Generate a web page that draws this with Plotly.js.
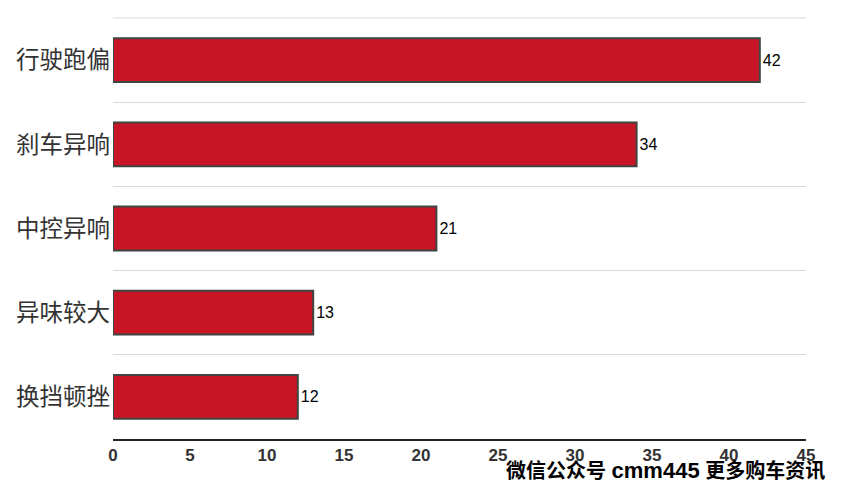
<!DOCTYPE html>
<html>
<head>
<meta charset="utf-8">
<script src="https://cdn.plot.ly/plotly-3.0.1.min.js"></script>
<style>html,body{margin:0;padding:0;background:#fff;}#chart{width:847px;height:485px;}</style>
</head>
<body>
<div id="chart"></div>
<script>
const categories = ["行驶跑偏", "刹车异响", "中控异响", "异味较大", "换挡顿挫"];
const values = [42, 34, 21, 13, 12];
const xTicks = [0, 5, 10, 15, 20, 25, 30, 35, 40, 45];
const watermarkA = "微信公众号 ";
const watermarkB = "cmm445";
const watermarkC = " 更多购车资讯";

const trace = {
  type: "bar",
  orientation: "h",
  y: categories,
  x: values,
  text: values.map(String),
  textposition: "outside",
  cliponaxis: false,
  textfont: {family: "Arial, Liberation Sans, sans-serif", size: 16, color: "#000"},
  marker: {color: "#c81526", line: {color: "#3f4540", width: 2}},
  width: 0.52,
  hoverinfo: "none"
};

const layout = {
  width: 847, height: 485,
  margin: {l: 113, r: 41, t: 18, b: 46},
  paper_bgcolor: "#fff", plot_bgcolor: "#fff",
  showlegend: false,
  xaxis: {
    range: [0, 45], tickvals: xTicks, ticktext: xTicks.map(String),
    showgrid: false, zeroline: false,
    showline: true, linecolor: "#222", linewidth: 2,
    ticks: "", tickfont: {family: "Arial, Liberation Sans, sans-serif", size: 17, color: "#333", weight: "bold"},
    fixedrange: true
  },
  yaxis: {
    type: "category", autorange: "reversed",
    tickson: "boundaries", showgrid: true, gridcolor: "#d9d9d9", gridwidth: 1,
    zeroline: false, showline: false, ticks: "",
    tickfont: {family: "Noto Sans CJK SC, sans-serif", size: 23.5, color: "#333"},
    ticklabelstandoff: 2,
    fixedrange: true
  },
  shapes: [{
    type: "line", xref: "paper", yref: "paper", x0: 0, x1: 1, y0: 1, y1: 1,
    line: {color: "#d9d9d9", width: 1}
  }],
  annotations: [{
    xref: "paper", yref: "paper", x: 1.03, y: -0.076, xanchor: "right", yanchor: "middle",
    text: watermarkA + "<span style='font-size:22px'>" + watermarkB + "</span>" + watermarkC,
    showarrow: false,
    font: {family: "Liberation Sans, Noto Sans CJK SC, sans-serif", size: 20, color: "#000", weight: "bold"}
  }]
};

Plotly.newPlot("chart", [trace], layout, {staticPlot: true});
</script>
</body>
</html>
